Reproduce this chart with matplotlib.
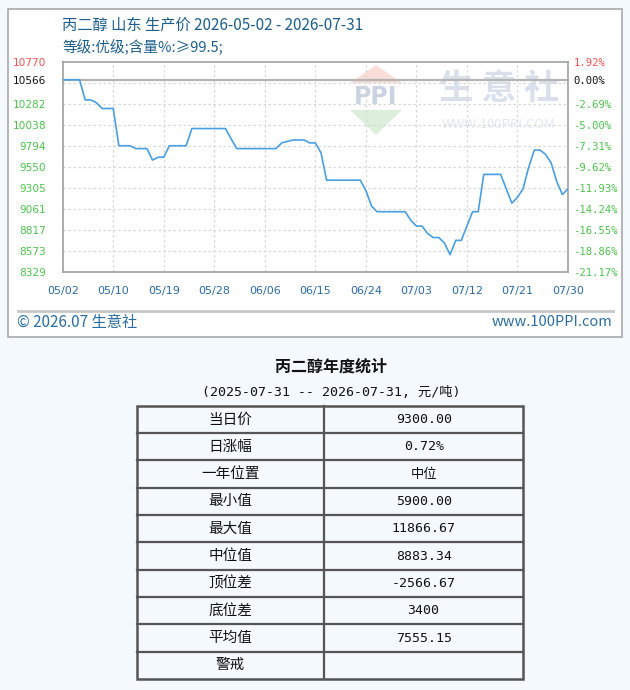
import numpy as np
import matplotlib
matplotlib.use("Agg")
import matplotlib.pyplot as plt
from matplotlib.patches import Rectangle, Polygon

plt.rcParams['font.family'] = ['Noto Sans CJK SC', 'DejaVu Sans']

# ---------------- data ----------------
title = "丙二醇 山东 生产价 2026-05-02 - 2026-07-31"
subtitle = "等级:优级;含量%:≥99.5;"
prices = [10566.67, 10566.67, 10566.67, 10566.67, 10333, 10333, 10300, 10233, 10233, 10233,
          9800, 9800, 9800, 9767, 9767, 9767, 9633, 9667, 9667, 9800,
          9800, 9800, 9800, 10000, 10000, 10000, 10000, 10000, 10000, 10000,
          9880, 9767, 9767, 9767, 9767, 9767, 9767, 9767, 9767, 9833,
          9850, 9867, 9867, 9867, 9833, 9833, 9720, 9400, 9400, 9400,
          9400, 9400, 9400, 9400, 9280, 9100, 9033, 9033, 9033, 9033,
          9033, 9033, 8933, 8867, 8867, 8780, 8733, 8733, 8667, 8533,
          8700, 8700, 8867, 9033, 9033, 9467, 9467, 9467, 9467, 9300,
          9133, 9200, 9300, 9550, 9750, 9750, 9700, 9600, 9383, 9233,
          9300]
x_tick_labels = ["05/02", "05/10", "05/19", "05/28", "06/06", "06/15",
                 "06/24", "07/03", "07/12", "07/21", "07/30"]
y_ticks = [8329, 8573, 8817, 9061, 9305, 9550, 9794, 10038, 10282, 10566, 10770]
pct_labels = ["-21.17%", "-18.86%", "-16.55%", "-14.24%", "-11.93%", "-9.62%",
              "-7.31%", "-5.00%", "-2.69%", "0.00%", "1.92%"]
stat_title = "丙二醇年度统计"
stat_subtitle = "(2025-07-31 -- 2026-07-31, 元/吨)"
stat_names = ["当日价", "日涨幅", "一年位置", "最小值", "最大值", "中位值",
              "顶位差", "底位差", "平均值", "警戒"]
stat_values = ["9300.00", "0.72%", "中位", "5900.00", "11866.67", "8883.34",
               "-2566.67", "3400", "7555.15", ""]

# ---------------- figure ----------------
W, H = 630, 690
fig = plt.figure(figsize=(W / 100, H / 100), dpi=100)
fig.patch.set_facecolor('#f4f9fd')

bg = fig.add_axes([0, 0, 1, 1], zorder=0)
bg.set_xlim(0, W)
bg.set_ylim(H, 0)
bg.axis('off')

# chart box
bg.add_patch(Rectangle((7.5, 8.5), 614, 328.5, fc='white', ec='#a9a9a9', lw=1.2))
bg.plot([18, 613], [311, 311], color='#c8c8c8', lw=2)

title_c = '#1d5f8c'
bg.text(62, 25, title, fontsize=11, color=title_c, va='center', ha='left')
bg.text(62, 47, subtitle, fontsize=10.5, color=title_c, va='center', ha='left')
bg.text(17, 322, "© 2026.07 生意社", fontsize=11, color='#2b6ea3', va='center', ha='left')
bg.text(612, 322, "www.100PPI.com", fontsize=10.5, color='#2b6ea3', va='center', ha='right')

# watermark
bg.add_patch(Polygon([[376, 65], [350, 83], [402, 83]], closed=True, fc='#f8ddd8', ec='none'))
bg.add_patch(Polygon([[350, 110], [402, 110], [376, 135]], closed=True, fc='#dcefdc', ec='none'))
bg.text(376, 97, "PPI", fontsize=17, color='#cbd3e2', ha='center', va='center',
        family='DejaVu Sans', fontweight='bold')
bg.text(499, 88, "生 意 社", fontsize=25, color='#d9e0eb', ha='center', va='center',
        fontweight='bold')
bg.text(499, 124, "WWW.100PPI.COM", fontsize=9.5, color='#e2e7ef', ha='center', va='center')

# ---------------- line chart ----------------
L, R, T, B = 62.7, 568.0, 62.3, 272.3
ax = fig.add_axes([L / W, 1 - B / H, (R - L) / W, (B - T) / H], zorder=2)
ax.set_facecolor('none')
x = np.arange(len(prices))
x_ticks = np.linspace(0, len(prices) - 1, len(x_tick_labels))
ax.set_xlim(x[0], x[-1])
ax.set_ylim(y_ticks[0], y_ticks[-1])

grid_y = np.linspace(y_ticks[0], y_ticks[-1], 11)[1:-1]
for g in grid_y:
    ax.axhline(g, color='#d8d8d8', lw=0.9, ls=(0, (2, 2)), zorder=1)
for gx in x_ticks[1:-1]:
    ax.axvline(gx, color='#d8d8d8', lw=0.9, ls=(0, (2, 2)), zorder=1)
ax.axhline(prices[0], color='#b4b4b4', lw=1.6, zorder=2)
ax.plot(x, prices, color='#4a9fe2', lw=1.2, zorder=3)

for s in ax.spines.values():
    s.set_color('#a0a0a0')
    s.set_linewidth(1.2)

ax.set_xticks(x_ticks)
ax.set_xticklabels(x_tick_labels, fontsize=8, color='#2a6aa6', family='DejaVu Sans')
ax.set_yticks(y_ticks)
ax.set_yticklabels([str(v) for v in y_ticks], fontsize=7.6, family='DejaVu Sans')
ax.tick_params(axis='x', length=0, pad=10)
ax.tick_params(axis='y', length=0, pad=12)
green = '#4cc44c'
for i, lab in enumerate(ax.get_yticklabels()):
    if i == len(y_ticks) - 1:
        lab.set_color('#ff5050')
    elif i == len(y_ticks) - 2:
        lab.set_color('#111111')
    else:
        lab.set_color(green)

ax2 = ax.twinx()
ax2.set_ylim(ax.get_ylim())
ax2.set_yticks(y_ticks)
ax2.set_yticklabels(pct_labels, fontsize=7.6, family='DejaVu Sans Mono')
ax2.tick_params(axis='y', length=0, pad=4)
for s in ax2.spines.values():
    s.set_visible(False)
for i, lab in enumerate(ax2.get_yticklabels()):
    if i == len(y_ticks) - 1:
        lab.set_color('#ff5050')
    elif i == len(y_ticks) - 2:
        lab.set_color('#111111')
    else:
        lab.set_color(green)

# ---------------- statistics table ----------------
bg.text(331, 367, stat_title, fontsize=11.5, fontweight='bold', color='#111111',
        ha='center', va='center')
bg.text(331, 393, stat_subtitle, fontsize=9.5, color='#111111', ha='center', va='center',
        family=['DejaVu Sans Mono', 'Noto Sans CJK SC'])

tl, tr, tm = 136.7, 523.3, 324.0
tt, tb = 405.7, 679.0
nrows = len(stat_names)
rh = (tb - tt) / nrows
lc = '#555555'
bg.add_patch(Rectangle((tl, tt), tr - tl, tb - tt, fc='none', ec=lc, lw=1.8))
for i in range(1, nrows):
    bg.plot([tl, tr], [tt + i * rh] * 2, color=lc, lw=1.6)
bg.plot([tm, tm], [tt, tb], color=lc, lw=1.6)
for i, (nm, vl) in enumerate(zip(stat_names, stat_values)):
    cy = tt + (i + 0.5) * rh
    bg.text((tl + tm) / 2, cy, nm, fontsize=10.5, color='#111111', ha='center', va='center')
    bg.text((tm + tr) / 2, cy, vl, fontsize=9.5, color='#111111', ha='center', va='center',
            family=['DejaVu Sans Mono', 'Noto Sans CJK SC'])

fig.savefig("out.png", dpi=100, facecolor=fig.get_facecolor())
